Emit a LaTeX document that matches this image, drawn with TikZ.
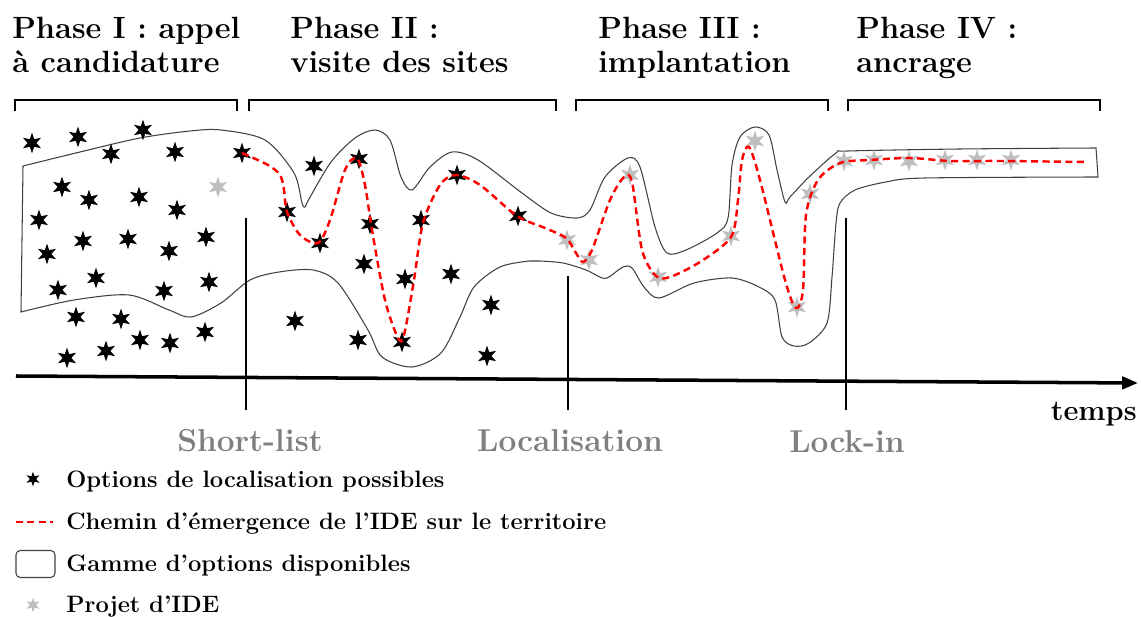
\documentclass[tikz,border=0pt]{standalone}
\usepackage{tikz}
\usetikzlibrary{shapes.geometric,arrows.meta}
\definecolor{projgray}{HTML}{BFBFBF}
\definecolor{labgray}{HTML}{7F7F7F}
\definecolor{envgray}{HTML}{404040}

\begin{document}
\begin{tikzpicture}[x=0.02cm,y=-0.02cm,
  opt/.style={star,star points=6,star point ratio=2.4,fill=black,inner sep=0pt,minimum size=0.42cm},
  proj/.style={opt,fill=projgray},
  phase/.style={font=\bfseries\fontsize{17.5}{19.5}\selectfont,align=left,anchor=north west,inner sep=0pt},
  jalon/.style={font=\bfseries\fontsize{18}{20}\selectfont,text=labgray,anchor=base,inner sep=0pt},
  leg/.style={font=\bfseries\fontsize{13.5}{15}\selectfont,anchor=base west,inner sep=0pt},
  chemin/.style={red,line width=1.4pt,dash pattern=on 4pt off 2.5pt},
  accol/.style={line width=0.8pt}]

\useasboundingbox (0,0) rectangle (1141,617);

% titres des phases
\node[phase] (t1) at (12,17) {Phase I : appel\\à candidature};
\node[phase] (t2) at (290,17) {Phase II :\\visite des sites};
\node[phase] (t3) at (598,17) {Phase III :\\implantation};
\node[phase] (t4) at (856,17) {Phase IV :\\ancrage};

% accolades
\draw[accol] (15,111)--(15,100)--(237,100)--(237,111);
\draw[accol] (249,111)--(249,100)--(556,100)--(556,111);
\draw[accol] (576,111)--(576,100)--(828,100)--(828,111);
\draw[accol] (848,111)--(848,100)--(1100,100)--(1100,111);

% gamme d'options
\draw[envgray,line width=0.6pt] plot[smooth] coordinates {(23,166) (80,152) (140,138) (190,131) (221,130) (265,140) (294,173) (302,203) (305,207) (309,199) (331,162) (355,138) (375,130) (390,140) (401,177) (412,190) (430,167) (452,152) (478,160) (522,193) (551,213) (577,218) (590,210) (605,177) (628,158) (640,167) (655,227) (667,253) (686,250) (717,233) (728,218) (732,165) (740,137) (755,127) (769,135) (777,170) (785,202) (790,197) (809,177) (836,153) (848,151) (960,149) (1096,148)}
  -- plot[smooth] coordinates {(1098,177) (925,178) (886,182) (855,190) (840,203) (836,223) (832,277) (827,323) (809,343) (794,346) (782,337) (775,300) (759,287) (732,278) (694,283) (659,298) (644,287) (632,268) (623,267) (609,277) (602,278) (586,270) (563,263) (540,261) (529,261) (500,267) (474,287) (460,317) (441,353) (412,367) (382,357) (368,330) (338,283) (313,270) (279,272) (250,280) (221,303) (191,317) (169,310) (129,295) (74,300) (21,312)} -- cycle;

% options de localisation
\foreach \x/\y [count=\i] in {32/143,78/137,143/130,111/154,175/152,242/153,62/187,89/200,139/197,177/210,
  39/220,83/241,128/239,169/251,206/237,47/254,96/278,58/290,164/291,209/282,76/317,121/319,205/332,
  140/340,170/343,106/351,67/358,287/212,314/166,320/243,359/159,370/224,421/220,364/264,405/279,
  451/274,457/175,518/216,491/305,487/356,295/321,358/340,402/342}
  \node[opt] (o\i) at (\x,\y) {};

% projet d'IDE
\foreach \x/\y [count=\i] in {218/187,567/240,589/260,630/175,658/277,731/236,755/141,797/307,810/194,
  844/161,874/160,909/161,945/160,977/160,1011/160}
  \node[proj] (p\i) at (\x,\y) {};

% chemin d'emergence
\draw[chemin] plot[smooth] coordinates {(242,153) (268,165) (280,175) (284,190) (287,212) (300,235) (318,243) (330,220) (345,170) (357,158) (365,185) (372,230) (385,300) (398,338) (404,335) (414,280) (423,223) (440,185) (456,175) (480,185) (517,216) (545,228) (566,238) (576,253) (583,262) (592,250) (610,200) (624,177) (632,182) (642,250) (656,276) (670,277) (700,262) (731,237) (738,200) (742,160) (749,147) (760,180) (785,280) (796,308) (803,290) (806,215) (818,180) (840,163) (870,160) (910,158) (950,161) (1000,161) (1086,162)};

% axe du temps
\coordinate (a0) at (16,376);
\coordinate (a1) at (1138,383);
\draw[line width=2pt,-{Triangle[length=9pt,width=7pt]}] (a0)--(a1);
\draw[line width=0.8pt] (246,218)--(246,410);
\draw[line width=0.8pt] (568,276)--(568,410);
\draw[line width=0.8pt] (846,218)--(846,410);
\node[font=\bfseries\fontsize{16.5}{19}\selectfont,anchor=base east,inner sep=0pt] (tps) at (1137,420) {temps};
\node[jalon] (j1) at (250,451) {Short-list};
\node[jalon] (j2) at (570,452) {Localisation};
\node[jalon] (j3) at (847,453) {Lock-in};

% legende
\node[opt,minimum size=0.3cm] (k1) at (33,479) {};
\node[leg] (l1) at (66,487) {Options de localisation possibles};
\coordinate (k2a) at (16,522);
\coordinate (k2b) at (53,522);
\draw[chemin] (k2a)--(k2b);
\node[leg] (l2) at (66,529) {Chemin d’émergence de l’IDE sur le territoire};
\node[draw=envgray,line width=0.6pt,rounded corners=2.5pt,minimum width=0.78cm,minimum height=0.54cm,inner sep=0pt] (k3) at (35.5,564) {};
\node[leg] (l3) at (66,571) {Gamme d’options disponibles};
\node[proj,minimum size=0.3cm] (k4) at (33,605) {};
\node[leg] (l4) at (66,612) {Projet d’IDE};
\end{tikzpicture}
\end{document}
